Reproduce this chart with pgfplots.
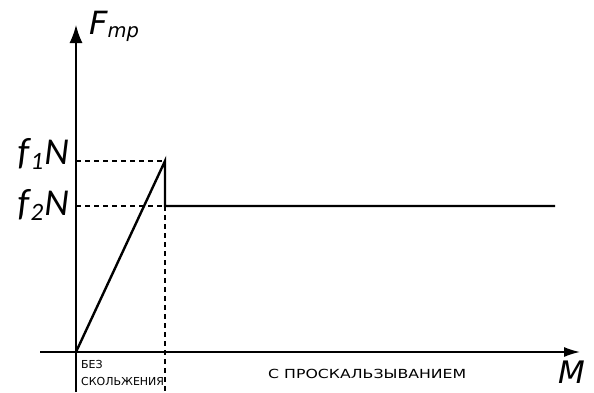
\documentclass[border=0pt]{standalone}
\usepackage{pgfplots}
\pgfplotsset{compat=1.18}
\usepackage{fontspec}
\setmainfont{DejaVu Sans}
\newfontfamily\carl{Carlito}
\newfontfamily\dejavu{DejaVu Sans}
\usetikzlibrary{arrows.meta}

\begin{document}
\begin{tikzpicture}
\begin{axis}[
  width=594pt, height=392pt, scale only axis,
  xmin=0, xmax=594, ymin=0, ymax=392,
  axis lines=none, clip=false,
]
% coordinate axes
\addplot[line width=1.6pt, -{Latex[length=18pt,width=13pt]}] coordinates {(76,0) (76,367)};
\addplot[line width=1.6pt, -{Latex[length=16pt,width=10pt]}] coordinates {(40,40) (580,40)};

% guide lines
\addplot[line width=1.1pt, dash pattern=on 5pt off 4pt] coordinates {(76,231) (165,231)};
\addplot[line width=1.1pt, dash pattern=on 5pt off 4pt] coordinates {(76,186) (165,186)};
\addplot[line width=1.1pt, dash pattern=on 5pt off 4pt] coordinates {(165,186) (165,0)};

% friction force: static growth, drop, sliding level
\addplot[line width=2.4pt, line join=miter] coordinates {(76,40) (165,231) (165,186) (555,186)};

% labels
\node[anchor=base west, inner sep=0pt] at (axis cs:89,357)
  {\dejavu\itshape\fontsize{32}{32}\selectfont F\raisebox{-2pt}{\fontsize{19.5}{19.5}\selectfont mp}};
\node[anchor=base west, inner sep=0pt] at (axis cs:558,9)
  {\dejavu\itshape\fontsize{31}{31}\selectfont M};
\node[anchor=base east, inner sep=0pt] at (axis cs:69,228)
  {\carl\itshape\fontsize{38}{38}\selectfont f\kern1.5pt\raisebox{-5pt}{\fontsize{25}{25}\selectfont 1}\kern1pt N};
\node[anchor=base east, inner sep=0pt] at (axis cs:69,177)
  {\carl\itshape\fontsize{38}{38}\selectfont f\kern1.5pt\raisebox{-5pt}{\fontsize{25}{25}\selectfont 2}\kern1pt N};
\node[anchor=base west, inner sep=0pt] at (axis cs:81,24)
  {\fontsize{11}{11}\selectfont БЕЗ};
\node[anchor=base west, inner sep=0pt] at (axis cs:81,7)
  {\fontsize{11}{11}\selectfont СКОЛЬЖЕНИЯ};
\node[anchor=base west, inner sep=0pt] at (axis cs:268,14)
  {\scalebox{1.26}[1]{\fontsize{12.5}{12.5}\selectfont С ПРОСКАЛЬЗЫВАНИЕМ}};
\end{axis}
\pgfresetboundingbox
\path[use as bounding box] (current axis.south west) rectangle (current axis.north east);
\end{tikzpicture}
\end{document}
